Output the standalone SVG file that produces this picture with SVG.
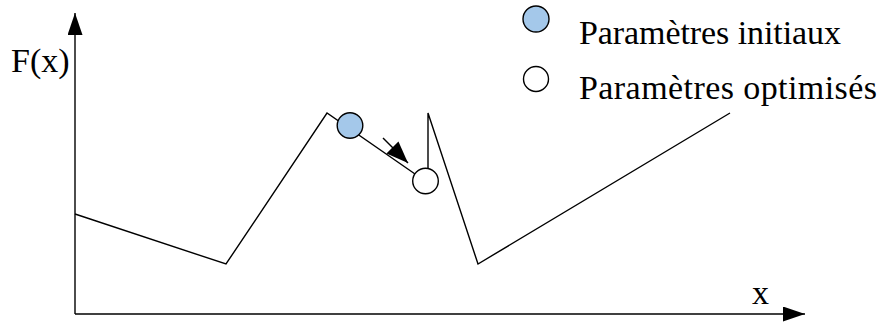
<svg xmlns="http://www.w3.org/2000/svg" width="882" height="322" viewBox="0 0 882 322">
<defs>
<style>
.ln{fill:none;stroke:#000;stroke-width:1.4;stroke-linejoin:miter}
.tx{font-family:"Liberation Serif","Times New Roman",serif;font-size:34px;fill:#000}
.pt{stroke:#000;stroke-width:1.4}
</style>
<marker id="ah" markerUnits="userSpaceOnUse" markerWidth="24" markerHeight="16" refX="22" refY="7.5" orient="auto">
<path d="M0,0 L22,7.5 L0,15 Z" fill="#000"/>
</marker>
<marker id="ah2" markerUnits="userSpaceOnUse" markerWidth="24" markerHeight="18" refX="22" refY="8.5" orient="auto">
<path d="M0,0 L22,8.5 L0,17 Z" fill="#000"/>
</marker>
</defs>
<rect width="882" height="322" fill="#fff"/>
<g id="connectors">
<line class="ln" x1="75" y1="314" x2="75" y2="13" marker-end="url(#ah)"/>
<line class="ln" x1="75" y1="314" x2="805" y2="314" marker-end="url(#ah)"/>
<polyline class="ln" points="75,214 226,264 327,113 428,183 428,113 478,264 730,113"/>
<line class="ln" x1="383" y1="138" x2="408" y2="163" marker-end="url(#ah2)"/>
</g>
<g id="axis-labels">
<text class="tx" x="11" y="72">F(x)</text>
<text class="tx" x="752" y="304">x</text>
</g>
<g id="initial-point">
<circle class="pt" cx="350" cy="125.5" r="12.8" fill="#a4c8ea"/>
</g>
<g id="optimized-point">
<circle class="pt" cx="425.5" cy="181" r="12.8" fill="#fff"/>
</g>
<g id="legend-initial">
<circle class="pt" cx="536" cy="19" r="13" fill="#a4c8ea"/>
<text class="tx" x="579" y="44" textLength="262" lengthAdjust="spacing">Paramètres initiaux</text>
</g>
<g id="legend-optimized">
<circle class="pt" cx="536" cy="79" r="12.5" fill="#fff"/>
<text class="tx" x="579" y="99" textLength="298" lengthAdjust="spacing">Paramètres optimisés</text>
</g>
</svg>
